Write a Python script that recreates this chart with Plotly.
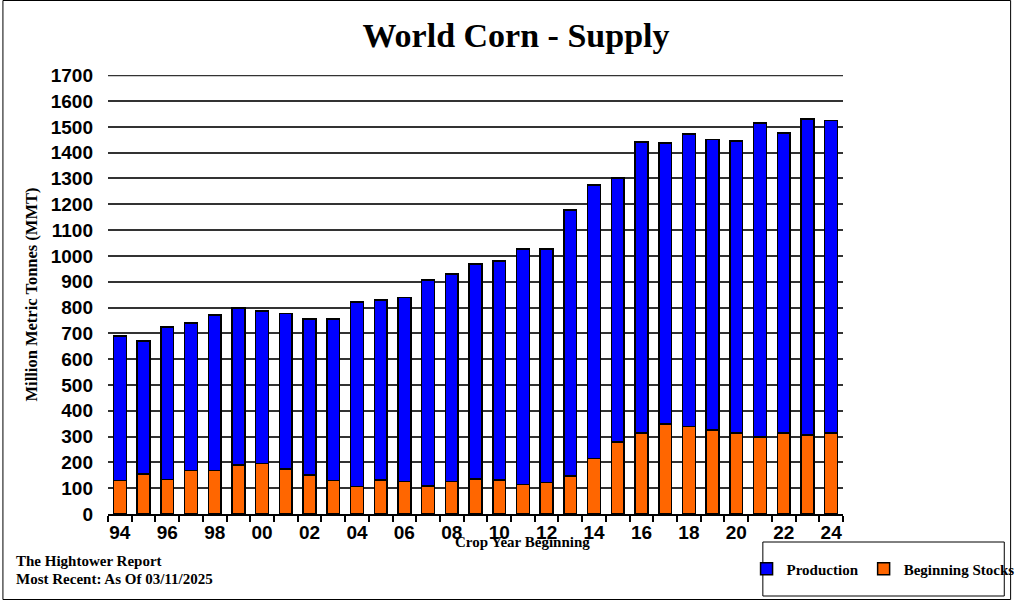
import plotly.graph_objects as go

years = ["94","95","96","97","98","99","00","01","02","03","04","05","06","07","08","09",
         "10","11","12","13","14","15","16","17","18","19","20","21","22","23","24"]
total_supply = [689, 671, 725, 741, 772, 798, 787, 776, 756, 756, 822, 830, 838, 907, 930, 968,
                980, 1026, 1026, 1178, 1274, 1301, 1441, 1437, 1472, 1452, 1445, 1516, 1477, 1530, 1525]
beginning_stocks = [129, 155, 134, 168, 168, 190, 195, 174, 152, 129, 106, 132, 125, 108, 125, 135,
                    132, 115, 123, 147, 216, 279, 314, 349, 340, 325, 314, 298, 314, 306, 314]
production = [t - s for t, s in zip(total_supply, beginning_stocks)]

W, H = 1032, 600
L, R, T, B = 108, 860, 75, 514
pw, ph = R - L, B - T

def px(x):
    return (x - L) / pw

def py(y):
    return (B - y) / ph

serif = "Liberation Serif"
tickfont = dict(family="Liberation Sans", size=19, color="black", weight="bold")
fig = go.Figure()
fig.add_trace(go.Bar(x=years, y=beginning_stocks, name="Beginning Stocks",
                     marker=dict(color="#FF6600", line=dict(color="black", width=1.5))))
fig.add_trace(go.Bar(x=years, y=production, name="Production",
                     marker=dict(color="#0000FF", line=dict(color="black", width=1.5))))

fig.update_layout(
    barmode="stack", bargap=0.46,
    width=W, height=H,
    margin=dict(l=L, r=W - R, t=T, b=H - B),
    paper_bgcolor="white", plot_bgcolor="white",
    title=dict(text="<b>World Corn - Supply</b>", x=0.5, xref="container", xanchor="center",
               y=1 - 35 / H, yanchor="middle",
               font=dict(family=serif, size=34, color="black")),
    showlegend=True,
    legend=dict(orientation="h", x=px(901), y=py(569), xanchor="center", yanchor="middle",
                traceorder="reversed", font=dict(family=serif, size=15, color="black", weight="bold"),
                bgcolor="rgba(0,0,0,0)", itemwidth=30, entrywidthmode="pixels"),
    xaxis=dict(type="category", tickson="boundaries", ticks="outside", ticklen=6, tickwidth=2,
               tickcolor="black", ticklabelstep=2, tickangle=0, showline=True, linecolor="black",
               linewidth=2, showgrid=False, tickfont=tickfont),
    yaxis=dict(range=[0, 1701], dtick=100, showgrid=True, gridcolor="#333333", gridwidth=1.8,
               showline=False, zeroline=False, ticks="", ticklabelstandoff=14,
               tickfont=tickfont,
               title=dict(text="<b>Million Metric Tonnes (MMT)</b>", standoff=8,
                          font=dict(family=serif, size=16.5, color="black"))),
)

# top gridline at 1700 (plotly omits gridlines at the plot edge)
fig.add_shape(type="line", xref="paper", yref="y", x0=0, x1=1, y0=1700, y1=1700,
              line=dict(color="#333333", width=1.8), layer="below")

fig.add_annotation(text="<b>Crop Year Beginning</b>", xref="paper", yref="paper",
                   x=px(532), y=py(542), showarrow=False, xanchor="center", yanchor="middle",
                   font=dict(family=serif, size=15, color="black"))
fig.add_annotation(text="<b>The Hightower Report</b>", xref="paper", yref="paper",
                   x=px(12), y=py(561), showarrow=False, xanchor="left", yanchor="middle",
                   font=dict(family=serif, size=15, color="black"))
fig.add_annotation(text="<b>Most Recent: As Of 03/11/2025</b>", xref="paper", yref="paper",
                   x=px(12), y=py(579), showarrow=False, xanchor="left", yanchor="middle",
                   font=dict(family=serif, size=15, color="black"))

fig.add_shape(type="rect", xref="paper", yref="paper", x0=px(778), x1=px(1025), y0=py(596), y1=py(542),
              line=dict(color="black", width=1), fillcolor="rgba(0,0,0,0)")
fig.add_shape(type="rect", xref="paper", yref="paper", x0=px(0.5), x1=px(1031.5), y0=py(599.5), y1=py(0.5),
              line=dict(color="black", width=1), fillcolor="rgba(0,0,0,0)")

fig.write_html("out.html")
